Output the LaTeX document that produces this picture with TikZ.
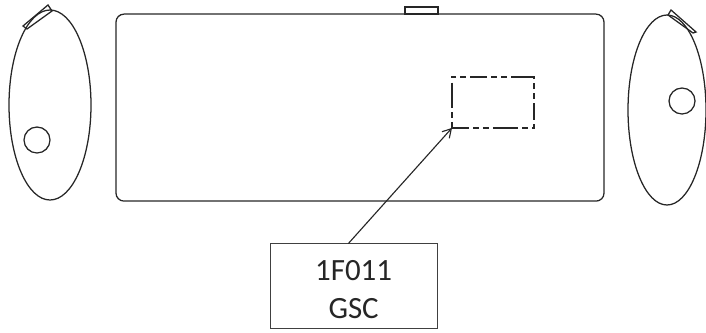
\documentclass[tikz,border=0pt]{standalone}
\usepackage{fontspec}
\setmainfont{Carlito}
\usetikzlibrary{arrows.meta,shapes,positioning,calc}

\tikzset{
  outline/.style={draw=black!85, line width=0.9pt, inner sep=0pt, outer sep=0pt},
  endcap/.style={outline, ellipse, minimum width=2.0cm, minimum height=4.75cm},
  port/.style={outline, circle, minimum size=0.65cm},
  zone/.style={draw=black!85, line width=1pt, inner sep=0pt, outer sep=0pt, minimum width=2.05cm, minimum height=1.275cm,
    dash pattern=on 12pt off 3pt on 4pt off 3pt on 4pt off 3pt on 18pt off 3pt on 4pt off 3pt on 4pt off 3pt},
  tag/.style={draw=black!75, line width=0.8pt, inner sep=0pt, outer sep=0pt, minimum width=4.175cm, minimum height=2.125cm, align=center, font=\fontsize{22}{27}\selectfont, text=black!85, text height=46pt}
}

\begin{document}
\begin{tikzpicture}
\useasboundingbox (0,0) rectangle (17.65,8.3);

% Tank body
\node[outline, rectangle, rounded corners=0.2cm, minimum width=12.2cm, minimum height=4.675cm] (body) at (9,5.61) {};
\node[outline, rectangle, minimum width=0.825cm, minimum height=0.175cm, anchor=south] (tab) at (10.54,7.95) {};

% End views
\node[endcap, minimum width=2.05cm] (leftend) at (1.25,5.675) {};
\node[endcap, minimum width=1.95cm] (rightend) at (16.675,5.55) {};
\node[port] (leftport) at (0.925,4.8) {};
\node[port] (rightport) at (17.05,5.775) {};

% Small lugs on the end views
\draw[outline] (0.575,7.65) -- (1.2,8.175) -- (1.3,8.025) -- (0.675,7.575) -- cycle;
\draw[outline] (16.7,7.925) -- (16.775,8.05) -- (17.4,7.5) -- (17.325,7.475) -- cycle;

% Marked zone and its label
\node[zone, rectangle] (gsc) at (12.325,5.74) {};
\node[tag, rectangle] (label) at (8.84,1.15) {1F011\\GSC};

\draw[-{Straight Barb[length=6pt,width=7pt]}, black!85, line width=0.8pt] (label.97.5) -- (gsc.south west);

\end{tikzpicture}
\end{document}
